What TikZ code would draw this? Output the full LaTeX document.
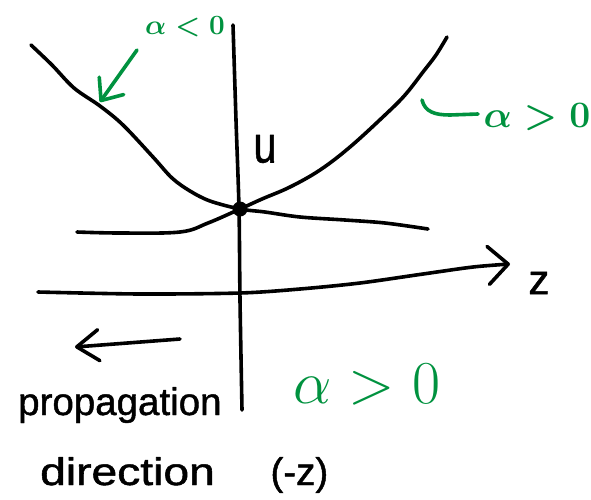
\documentclass[tikz,border=0pt]{standalone}
\usepackage{fontspec}
\setmainfont{Liberation Sans}
\newfontfamily\handfont{Liberation Sans}[FakeBold=1.2]
\usetikzlibrary{arrows.meta}
\definecolor{pen}{RGB}{0,146,63}
\newcommand{\bigmath}[2]{\scalebox{#1}{\Huge\boldmath$#2$}}
\newcommand{\plainmath}[2]{\scalebox{#1}{\Huge$#2$}}
\begin{document}
\begin{tikzpicture}[x=1pt,y=-1pt, line cap=round, line join=round,
  ink/.style={line width=3.6pt, draw=black},
  gink/.style={line width=3.6pt, draw=pen},
  btext/.style={inner sep=0pt, text=black},
  gtext/.style={inner sep=0pt, text=pen},
  barbtip/.style={-{Straight Barb[length=#1, width=30pt, round]}}]
\useasboundingbox[fill=white] (0,0) rectangle (591,499);

% axes
\draw[ink] plot[smooth] coordinates {(233,25) (236,120) (239,209) (240,300) (242,410)};
\coordinate (zend) at (510,264);
\draw[ink, -{Straight Barb[length=20pt, width=38pt, round]}] plot[smooth] coordinates {(38,292) (140,294) (240,293) (300,289) (360,283) (423,274) (473,267) (zend)};
\node[btext, font=\handfont\fontsize{42}{48}\selectfont] (zlab) at (539,283) {z};

% curves
\node[circle, fill=black, inner sep=0pt, minimum size=15pt] (u0) at (240,209) {};
\draw[ink] plot[smooth, tension=0.55] coordinates {(31,45) (52,65) (74,88) (100,106) (123,125) (153,157) (172,178) (190,191) (210,201) (240,209) (265,212) (300,217) (345,220) (385,223) (428,229)};
\draw[ink] plot[smooth, tension=0.6] coordinates {(77,232) (120,233) (180,232) (208,223) (240,209) (262,199) (290,187) (320,170) (350,147) (385,115) (405,95) (423,72) (436,55) (447,37)};
\node[btext, font=\handfont\fontsize{52}{58}\selectfont] (ulab) at (265,149) {\scalebox{0.8}[1]{u}};

% green labels
\node[gtext] (aneg) at (185,27) {\bigmath{1.12}{\alpha<0}};
\coordinate (anegtail) at (137,50);
\coordinate (anegtip) at (100,102);
\draw[gink, barbtip=18pt] (anegtail) -- (anegtip);

\node[gtext] (apos) at (537,117) {\bigmath{1.5}{\alpha>0}};
\coordinate (hookstart) at (422,100);
\coordinate (hookend) at (478,114);
\draw[gink] (hookstart) .. controls (425,112) and (435,115) .. (450,115) -- (hookend);

\node[gtext] (abig) at (367,385) {\plainmath{2.45}{\alpha>0}};

% propagation direction
\coordinate (ptail) at (180,339);
\coordinate (ptip) at (75,347);
\draw[ink, -{Straight Barb[length=22pt, width=31pt, round]}] (ptail) -- (ptip);
\node[btext, font=\handfont\fontsize{38.5}{44}\selectfont, anchor=base west] (prop) at (18,415) {propagation};
\node[btext, font=\handfont\fontsize{38.5}{44}\selectfont, anchor=base west] (dir) at (40,485) {\scalebox{1.2}[1]{direction}\hspace{45pt} (-z)};
\end{tikzpicture}
\end{document}
